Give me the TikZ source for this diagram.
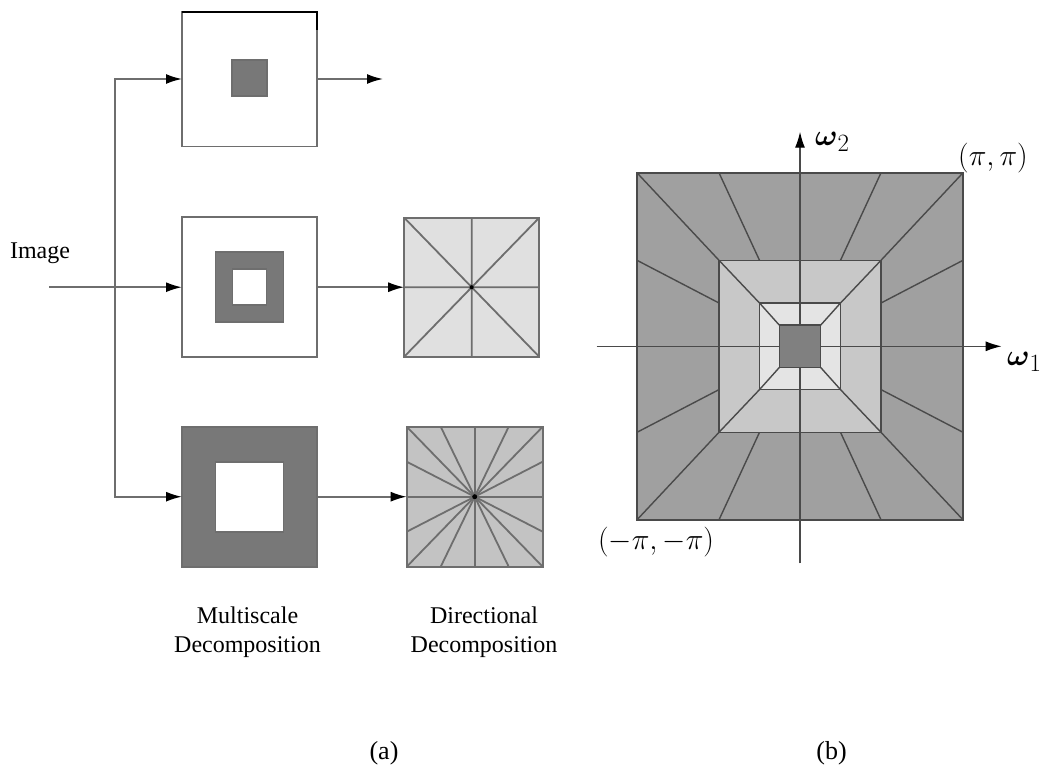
\documentclass[tikz,border=0pt]{standalone}
\usepackage{amsmath}
\usepackage[no-math]{fontspec}
\setmainfont{Liberation Serif}
\usetikzlibrary{arrows.meta,calc}
\definecolor{boxline}{HTML}{6E6E6E}
\definecolor{bandfill}{HTML}{787878}
\definecolor{dirlight}{HTML}{E0E0E0}
\definecolor{dirmid}{HTML}{C3C3C3}
\definecolor{ringA}{HTML}{A0A0A0}
\definecolor{ringB}{HTML}{C8C8C8}
\definecolor{ringC}{HTML}{E4E4E4}
\definecolor{ringD}{HTML}{808080}
\definecolor{ringline}{HTML}{4A4A4A}

\begin{document}
\begin{tikzpicture}[x=1pt,y=-1pt,>={Latex[length=16pt,width=10pt,color=black]},line width=1.8pt,
 msbox/.style={draw=boxline,fill=white,inner sep=0pt,outer sep=0pt,minimum width=135pt,minimum height=140pt},
 sqpatch/.style={draw=boxline,inner sep=0pt,outer sep=0pt},
 captext/.style={align=center,inner sep=0pt,font=\fontsize{24}{28.7}\selectfont},
 sublabel/.style={anchor=base,inner sep=0pt,font=\fontsize{26}{30}\selectfont},
 mathlabel/.style={inner sep=0pt,scale=1.2,transform shape,font=\fontsize{24.88}{30}\selectfont},
 ray/.style={draw=ringline,line width=1.4pt}]
\useasboundingbox (0,0) rectangle (1043,766);

\node[msbox,minimum height=135pt] (ms1) at (249.5,79) {};
\node[sqpatch,fill=bandfill,minimum width=35pt,minimum height=36pt] (core1) at (249.5,78) {};
\node[msbox] (ms2) at (249.5,287.2) {};
\node[sqpatch,fill=bandfill,minimum width=68pt,minimum height=70pt] (band2) at (ms2) {};
\node[sqpatch,fill=white,minimum width=34pt,minimum height=36pt] (hole2) at (ms2) {};
\node[msbox,fill=bandfill] (ms3) at (249.5,496.7) {};
\node[sqpatch,fill=white,minimum width=68pt,minimum height=70pt] (hole3) at (ms3) {};

\node[msbox,fill=dirlight,minimum height=139pt] (dir2) at (471.7,287.2) {};
\draw[boxline] (dir2.north west) -- (dir2.south east) (dir2.north east) -- (dir2.south west)
 (dir2.north) -- (dir2.south) (dir2.west) -- (dir2.east);
\fill[black] (dir2) circle (2pt);
\node[msbox,fill=dirmid,minimum width=136pt] (dir3) at (474.7,496.7) {};
\foreach \f in {0,0.25,0.5,0.75,1}
 \draw[boxline] ($(dir3.north west)!\f!(dir3.north east)$) -- ($(dir3.south east)!\f!(dir3.south west)$);
\foreach \f in {0.25,0.5,0.75}
 \draw[boxline] ($(dir3.north west)!\f!(dir3.south west)$) -- ($(dir3.south east)!\f!(dir3.north east)$);
\fill[black] (dir3) circle (2.5pt);
\draw[boxline] (dir3.north west) rectangle (dir3.south east);

\draw[black,line width=2pt] (ms1.north west) -- (ms1.north east) -- ++(0,18);

\node[anchor=base,inner sep=0pt,font=\fontsize{24}{28.7}\selectfont] (img) at (40,258) {Image};
\coordinate (src) at (49,287.2);
\coordinate (fork) at (115,287.2);
\coordinate (out1) at (383,79);
\draw[boxline,->] (src) -- (ms2.west);
\draw[boxline,->] (fork) |- (ms1.west);
\draw[boxline,->] (fork) |- (ms3.west);
\draw[boxline,->] (ms1.east) -- (out1);
\draw[boxline,->] (ms2.east) -- (dir2.west);
\draw[boxline,->] (ms3.east) -- (dir3.west);

\node[captext] (mslabel) at (247.5,632) {Multiscale\\Decomposition};
\node[captext] (dirlabel) at (484,632) {Directional\\Decomposition};
\node[sublabel] (capa) at (384,759) {(a)};
\node[sublabel] (capb) at (831.5,759) {(b)};

\begin{scope}[shift={(800,346.3)}]
\filldraw[fill=ringA,draw=ringline,line width=1.4pt] (-163,-173.5) rectangle (163,173.5);
\filldraw[fill=ringB,draw=ringline,line width=1.4pt] (-81,-86) rectangle (81,86);
\filldraw[fill=ringC,draw=ringline,line width=1.4pt] (-40.5,-43.3) rectangle (40.5,43.3);
\foreach \sx in {-1,1}{
 \foreach \sy in {-1,1}{
  \draw[ray] (\sx*163,\sy*173.5) -- (\sx*81,\sy*86);
  \draw[ray] (\sx*81,\sy*86) -- (\sx*40.5,\sy*43.3);
  \draw[ray] (\sx*40.5,\sy*43.3) -- (\sx*20.7,\sy*21.2);
  \draw[ray] (\sx*81,\sy*173.5) -- (\sx*40.5,\sy*86);
  \draw[ray] (\sx*163,\sy*86) -- (\sx*81,\sy*43.3);
 }
}
\draw[ringline,line width=1.4pt,->] (-203.3,0) -- (201.7,0);
\draw[ringline,line width=1.4pt,->] (0,217) -- (0,-214.6);
\filldraw[fill=ringD,draw=ringline,line width=1.4pt] (-20.7,-21.2) rectangle (20.7,21.2);
\end{scope}

\node[mathlabel,anchor=west] (w2) at (814,142) {$\boldsymbol{\omega}_2$};
\node[mathlabel,anchor=west] (w1) at (1006,362) {$\boldsymbol{\omega}_1$};
\node[mathlabel] (pp) at (993,158) {$(\pi,\pi)$};
\node[mathlabel] (mm) at (656,542) {$(-\pi,-\pi)$};
\end{tikzpicture}
\end{document}
